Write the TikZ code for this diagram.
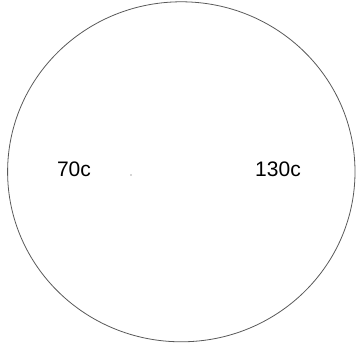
\documentclass[tikz,border=0pt]{standalone}
\usepackage{fontspec}
\setmainfont{Liberation Sans}
\begin{document}
\begin{tikzpicture}[x=1pt,y=-1pt,
  lbl/.style={inner sep=0pt,font=\fontsize{21}{24}\selectfont}]
\useasboundingbox (0,0) rectangle (358,344);
\draw[gray!70!black,line width=0.8pt] (181.3,171.8) ellipse [x radius=173.7, y radius=170];
\node[lbl] (a) at (74,169.5) {70c};
\node[lbl] (b) at (278,169.5) {130c};
\fill[gray!60!black] (131,175) circle (0.7);
\end{tikzpicture}
\end{document}
